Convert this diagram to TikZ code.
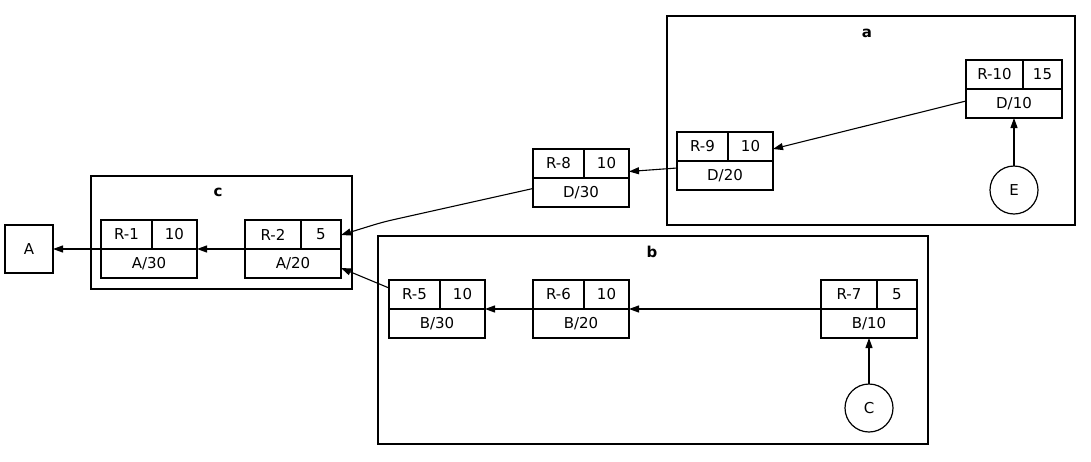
\documentclass[tikz,border=0pt]{standalone}
\usepackage{fontspec}
\setmainfont{DejaVu Sans}
\usetikzlibrary{arrows.meta,calc}
\tikzset{
  recbox/.style={draw, line width=1.2pt, minimum width=96pt, minimum height=58pt, inner sep=0pt, outer sep=0pt},
  recline/.style={line width=1.2pt},
  txt/.style={inner sep=0pt, font=\fontsize{15}{17}\selectfont},
  cluster/.style={draw, line width=1.1pt},
  clabel/.style={inner sep=0pt, font=\fontsize{15}{17}\selectfont\bfseries},
  sqbox/.style={draw, line width=1.2pt, minimum width=48pt, minimum height=48pt, inner sep=0pt, outer sep=0pt, font=\fontsize{15}{17}\selectfont},
  circ/.style={draw, circle, line width=1.2pt, minimum size=48pt, inner sep=0pt, outer sep=0pt, font=\fontsize{15}{17}\selectfont},
  edge/.style={line width=1.1pt, -{Triangle[length=10pt,width=7pt]}}
}
\newcommand\rec[7]{%
  \node[recbox] (#1) at ({#2+48},{#3+29}) {};
  \draw[recline] (#1.west) -- (#1.east);
  \draw[recline] (#4,#3) -- (#4,{#3+29});
  \node[txt] (#1-a) at ({(#2+#4)/2},{#3+14.5}) {#5};
  \node[txt] (#1-b) at ({(#4+#2+96)/2},{#3+14.5}) {#6};
  \node[txt] (#1-c) at ({#2+48},{#3+43.5}) {#7};
}
\begin{document}
\begin{tikzpicture}[x=1pt,y=-1pt]
\useasboundingbox (0,0) rectangle (1091,461);
% clusters
\draw[cluster] (91,176) rectangle (352,289);
\node[clabel] (lc) at (218,192) {c};
\draw[cluster] (378,236) rectangle (928,444);
\node[clabel] (lb) at (652,252) {b};
\draw[cluster] (667,16) rectangle (1075,225);
\node[clabel] (la) at (867,33) {a};
% records
\rec{r1}{101}{220}{152}{R-1}{10}{A/30}
\rec{r2}{245}{220}{301}{R-2}{5}{A/20}
\rec{r8}{533}{149}{584}{R-8}{10}{D/30}
\rec{r5}{389}{280}{440}{R-5}{10}{B/30}
\rec{r6}{533}{280}{584}{R-6}{10}{B/20}
\rec{r7}{821}{280}{877}{R-7}{5}{B/10}
\rec{r9}{677}{132}{728}{R-9}{10}{D/20}
\rec{r10}{966}{60}{1023}{R-10}{15}{D/10}
% other nodes
\node[sqbox] (A) at (29,249) {A};
\node[circ] (E) at (1014,190) {E};
\node[circ] (C) at (869,408) {C};
% edges
\draw[edge] (r1.west) -- (A.east);
\draw[edge] (r2.west) -- (r1.east);
\draw[edge, rounded corners=10pt] ($(r8.west)+(0,10.5)$) -- (383,222) -- ($(r2.east)+(0,-14)$);
\draw[edge] ($(r5.north west)+(0,8)$) -- ($(r2.east)+(0,19)$);
\draw[edge] (r6.west) -- (r5.east);
\draw[edge] (r7.west) -- (r6.east);
\draw[edge] (C.north) -- (r7.south);
\draw[edge] (E.north) -- (r10.south);
\draw[edge] ($(r10.west)+(0,12)$) -- ($(r9.east)+(0,-12)$);
\draw[edge] ($(r9.west)+(0,7)$) -- ($(r8.east)+(0,-6.5)$);
\end{tikzpicture}
\end{document}
